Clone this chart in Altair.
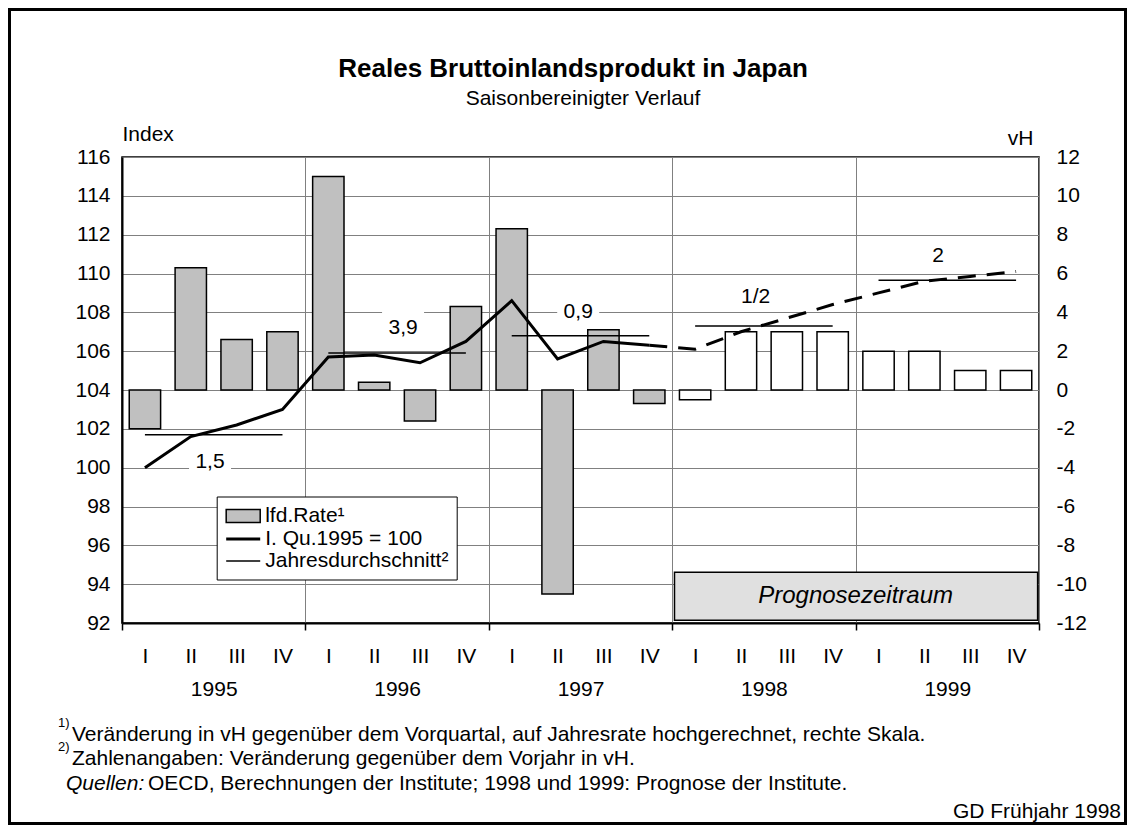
import altair as alt
import pandas as pd

# ---------------- data ----------------
years = [1995, 1996, 1997, 1998, 1999]
quarter_names = ["I", "II", "III", "IV"]
# quarterly rate, vH (right scale)
rate = [-2.0, 6.3, 2.6, 3.0, 11.0, 0.4, -1.6, 4.3, 8.3, -10.5, 3.1, -0.7,
        -0.5, 3.0, 3.0, 3.0, 2.0, 2.0, 1.0, 1.0]
# index I. Qu. 1995 = 100 (left scale), 1995 Q1 .. 1997 Q4
index_actual = [100.0, 101.6, 102.2, 103.0, 105.7, 105.8, 105.4, 106.5,
                108.6, 105.6, 106.5, 106.3]
# forecast path, 1997 Q4 .. 1999 Q4
index_forecast = [106.3, 106.1, 107.0, 107.7, 108.4, 109.0, 109.6, 109.85, 110.1]
# annual averages (index level) and their labels
annual_avg = [101.7, 105.9, 106.8, 107.3, 109.65]
annual_text = ["1,5", "3,9", "0,9", "1/2", "2"]
annual_text_q = [1.92, 6.13, 9.95, 13.82, 17.8]
annual_text_level = [100.3, 107.2, 108.0, 108.8, 110.9]
legend_items = ["lfd.Rate¹", "I. Qu.1995 = 100", "Jahresdurchschnitt²"]
forecast_label = "Prognosezeitraum"
first_forecast_quarter = 12

title_text = "Reales Bruttoinlandsprodukt in Japan"
subtitle_text = "Saisonbereinigter Verlauf"
note1 = "Veränderung in vH gegenüber dem Vorquartal, auf Jahresrate hochgerechnet, rechte Skala."
note2 = "Zahlenangaben: Veränderung gegenüber dem Vorjahr in vH."
source_head = "Quellen:"
source_text = "OECD, Berechnungen der Institute; 1998 und 1999: Prognose der Institute."
credit = "GD Frühjahr 1998"

# ---------------- tables ----------------
nq = len(rate)
df_rate = pd.DataFrame({"q": list(range(nq)), "rate": rate})
df_rate["x0"] = df_rate["q"] + 0.158
df_rate["x1"] = df_rate["q"] + 0.842

df_act = pd.DataFrame({"t": [i + 0.5 for i in range(len(index_actual))], "v": index_actual})
df_fc = pd.DataFrame({"t": [len(index_actual) - 0.5 + i for i in range(len(index_forecast))],
                      "v": index_forecast})
df_avg = pd.DataFrame({"x0": [4 * k + 0.5 for k in range(len(years))],
                       "x1": [4 * k + 3.5 for k in range(len(years))],
                       "v": annual_avg})
df_lab = pd.DataFrame({"t": annual_text_q, "v": annual_text_level, "txt": annual_text})
df_box = df_lab.iloc[:3]
df_prog = pd.DataFrame({"x0": [first_forecast_quarter + 0.05], "x1": [nq - 0.03],
                        "y0": [94.61], "y1": [92.14], "tm": [(first_forecast_quarter + nq) / 2],
                        "vm": [93.375], "txt": [forecast_label]})
df_leg = pd.DataFrame({"item": legend_items, "t": [None] * 3, "v": [None] * 3})
one = pd.DataFrame({"a": [0]})

FONT = "Liberation Sans"
F = 21
GRID = "#808080"

xs = alt.Scale(domain=[0, nq], nice=False, zero=False)
ys_idx = alt.Scale(domain=[92, 116], nice=False, zero=False)
ys_rate = alt.Scale(domain=[-12, 12], nice=False, zero=False)

q_expr = "[" + ",".join("'%s'" % q for q in quarter_names) + "][floor(datum.value) % 4]"
y_expr = "[" + ",".join(str(y) for y in years) + "][floor(datum.value / 4)]"

q_axis = alt.Axis(orient="bottom", values=[q + 0.5 for q in range(nq)], labelExpr=q_expr,
                  ticks=False, grid=False, domain=True, domainColor="black", domainWidth=2,
                  labelPadding=22, labelFontSize=F, labelFlush=False, labelColor="black",
                  title=None)
yeargrid_axis = alt.Axis(orient="bottom", values=[4 * k for k in range(len(years) + 1)],
                         labels=False, grid=True, gridColor=GRID, gridWidth=1, ticks=True,
                         tickSize=7, tickColor="black", tickWidth=1.5, domain=False, title=None)
yearlab_axis = alt.Axis(orient="bottom", values=[4 * k + 2 for k in range(len(years))],
                        labelExpr=y_expr, ticks=False, grid=False, domain=False, labelPadding=55,
                        labelFontSize=F, labelFlush=False, labelColor="black", title=None)
left_axis = alt.Axis(orient="left", values=list(range(92, 117, 2)), grid=True, gridColor=GRID,
                     gridWidth=1, ticks=False, domain=True, domainColor="black", domainWidth=2,
                     labelPadding=12, labelFontSize=F, labelColor="black", title="Index",
                     titleAngle=0, titleAlign="left", titleX=0, titleY=-17,
                     titleBaseline="alphabetic", titleFontSize=F, titleFontWeight="normal",
                     titleColor="black")
right_axis = alt.Axis(orient="right", values=list(range(-12, 13, 2)), labelExpr="datum.value + ''",
                      grid=False, ticks=False, domain=False, labelPadding=17, labelFontSize=F,
                      labelColor="black", title="vH", titleAngle=0, titleAlign="right", titleX=-6,
                      titleY=-13, titleBaseline="alphabetic", titleFontSize=F,
                      titleFontWeight="normal", titleColor="black")

# white backgrounds behind annual labels
boxes = alt.Chart(df_box).mark_point(shape="M-1,-0.75H1V0.75H-1Z", size=1764, filled=True,
                                     color="white", opacity=1, strokeWidth=0).encode(
    x=alt.X("t:Q", scale=xs, axis=None),
    y=alt.Y("v:Q", scale=ys_idx, axis=None))

bars = alt.Chart(df_rate).mark_bar(stroke="black", strokeWidth=1.5).encode(
    x=alt.X("x0:Q", scale=xs, axis=q_axis),
    x2="x1:Q",
    y=alt.Y("rate:Q", scale=ys_rate, axis=right_axis),
    y2=alt.datum(0),
    fill=alt.condition("datum.q >= %d" % first_forecast_quarter, alt.value("white"),
                       alt.value("#c0c0c0")))

line_act = alt.Chart(df_act).mark_line(color="black", strokeWidth=3).encode(
    x=alt.X("t:Q", scale=xs, axis=yeargrid_axis),
    y=alt.Y("v:Q", scale=ys_idx, axis=left_axis))

line_fc = alt.Chart(df_fc).mark_line(color="black", strokeWidth=3, strokeDash=[18, 11]).encode(
    x=alt.X("t:Q", scale=xs, axis=None),
    y=alt.Y("v:Q", scale=ys_idx, axis=None))

avg_rules = alt.Chart(df_avg).mark_rule(color="black", strokeWidth=1.5).encode(
    x=alt.X("x0:Q", scale=xs, axis=yearlab_axis),
    x2="x1:Q",
    y=alt.Y("v:Q", scale=ys_idx, axis=None))

avg_text = alt.Chart(df_lab).mark_text(fontSize=F, font=FONT, color="black").encode(
    x=alt.X("t:Q", scale=xs, axis=None),
    y=alt.Y("v:Q", scale=ys_idx, axis=None),
    text="txt:N")

prog_box = alt.Chart(df_prog).mark_rect(fill="#e0e0e0", stroke="black", strokeWidth=1.5).encode(
    x=alt.X("x0:Q", scale=xs, axis=None), x2="x1:Q",
    y=alt.Y("y0:Q", scale=ys_idx, axis=None), y2="y1:Q")
prog_text = alt.Chart(df_prog).mark_text(fontSize=24, font=FONT, fontStyle="italic",
                                         color="black").encode(
    x=alt.X("tm:Q", scale=xs, axis=None),
    y=alt.Y("vm:Q", scale=ys_idx, axis=None),
    text="txt:N")

rect_sym = "M-1.62,-0.62H1.62V0.62H-1.62Z"
line_sym = "M-1.62,0H1.62"
leg = alt.Legend(title=None, orient="none", legendX=94.7, legendY=339.5, direction="vertical",
                 fillColor="white", strokeColor="black", padding=8, labelFontSize=F,
                 labelFont=FONT, labelColor="black", symbolSize=441, symbolOffset=6.5,
                 labelOffset=10, rowPadding=0.5, symbolFillColor="#c0c0c0",
                 symbolStrokeColor="black", symbolOpacity=1, labelLimit=400)
legend_layer = alt.Chart(df_leg).mark_point(opacity=1).encode(
    x=alt.X("t:Q", scale=xs, axis=None),
    y=alt.Y("v:Q", scale=ys_idx, axis=None),
    shape=alt.Shape("item:N", scale=alt.Scale(domain=legend_items,
                                              range=[rect_sym, line_sym, line_sym]), legend=leg),
    fill=alt.Fill("item:N", scale=alt.Scale(domain=legend_items,
                                            range=["#c0c0c0", "transparent", "transparent"]),
                  legend=leg),
    stroke=alt.Stroke("item:N", scale=alt.Scale(domain=legend_items,
                                                range=["black", "black", "black"]), legend=leg),
    strokeWidth=alt.StrokeWidth("item:N", scale=alt.Scale(type="ordinal", domain=legend_items,
                                                          range=[1.5, 3, 1.5]), legend=leg))

# ---- texts outside the plot area (pixel positions relative to plot origin) ----
def txt(s, x, y, size=F, align="left", weight="normal", style="normal", baseline="alphabetic"):
    return alt.Chart(one).mark_text(text=s, fontSize=size, font=FONT, align=align,
                                    fontWeight=weight, fontStyle=style, baseline=baseline,
                                    color="black").encode(x=alt.value(x), y=alt.value(y))

texts = [
    txt(title_text, 451, -80, size=26, align="center", weight="bold"),
    txt(subtitle_text, 461, -52, align="center"),
    txt("1)", -64, 570, size=13),
    txt(note1, -50, 584),
    txt("2)", -64, 594, size=13),
    txt(note2, -50, 608),
    txt(source_head, -56, 633, style="italic"),
    txt(source_text, 26, 633),
    txt(credit, 999, 661, align="right"),
]

frame = alt.Chart(one).mark_rect(filled=False, stroke="black", strokeWidth=3).encode(
    x=alt.value(-112.5), x2=alt.value(1003.5), y=alt.value(-147.5), y2=alt.value(666.5))

chart = alt.layer(
    boxes, bars, line_act, line_fc, avg_rules, avg_text, prog_box, prog_text, legend_layer,
    frame, *texts
).resolve_scale(y="independent").resolve_axis(x="independent").properties(
    width=917, height=466,
    autosize=alt.AutoSizeParams(type="none"),
    padding={"left": 114, "top": 149, "right": 88, "bottom": 202},
    background="white",
).configure(font=FONT).configure_view(stroke="black", strokeWidth=1.5)

chart.save("out.html", embed_options={"renderer": "svg", "actions": False})
